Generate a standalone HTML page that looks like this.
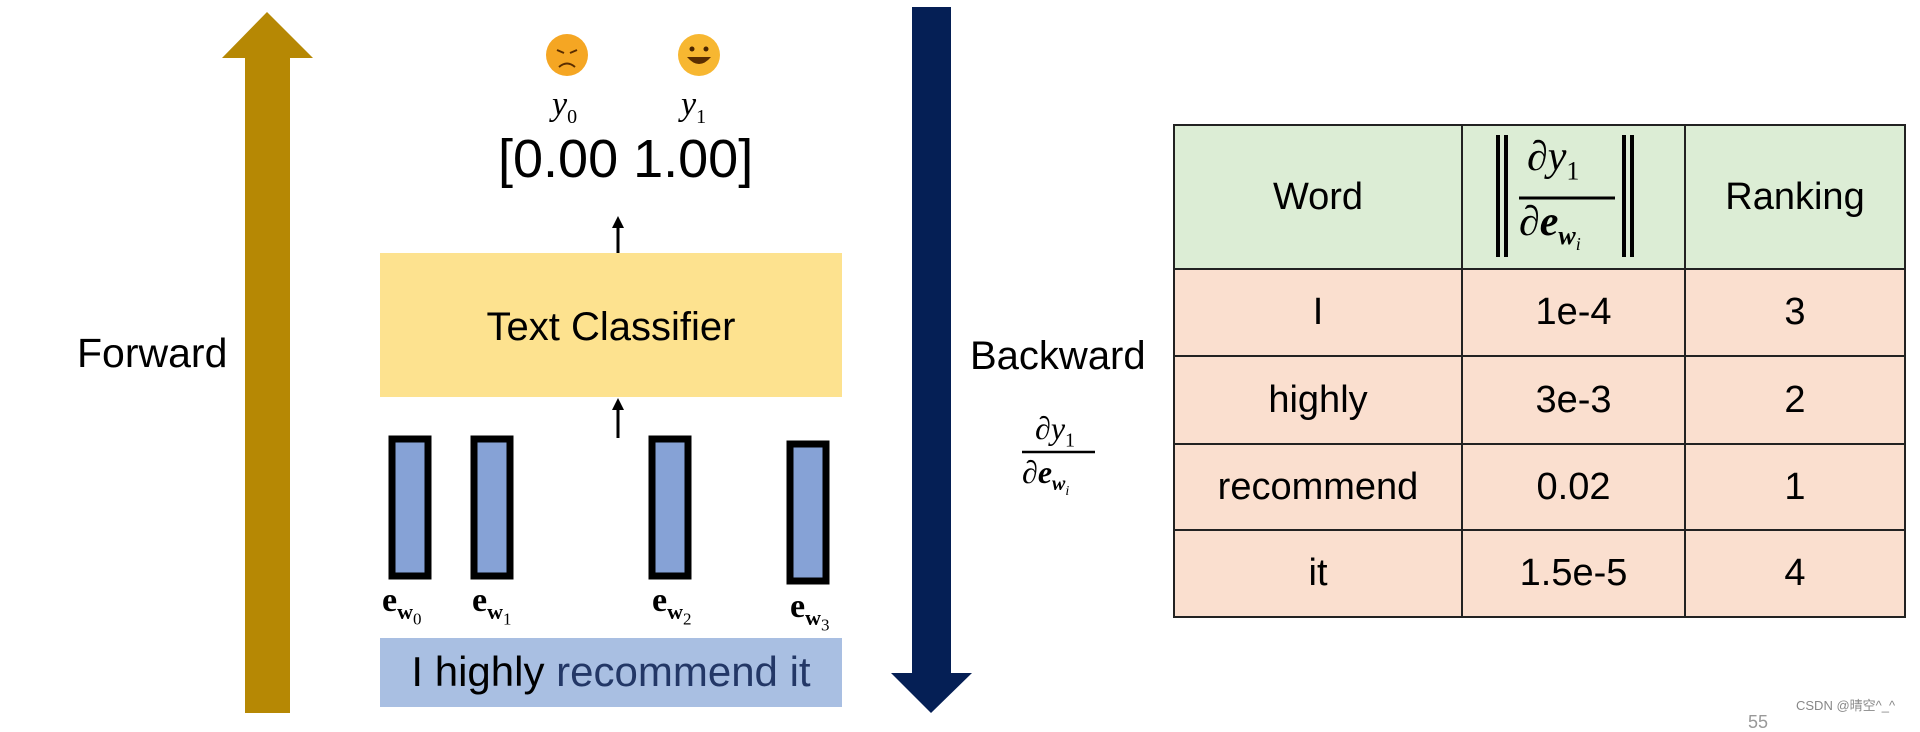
<!DOCTYPE html>
<html><head><meta charset="utf-8"><style>
body{margin:0;width:1920px;height:723px;background:#fff;position:relative;overflow:hidden;font-family:"Liberation Sans","DejaVu Sans",sans-serif;}
.a{position:absolute;white-space:nowrap;line-height:1;z-index:5;}
.m{font-family:"Liberation Serif","DejaVu Serif",serif;font-style:italic;}
table{position:absolute;left:1173px;top:124px;border-collapse:collapse;font-size:38px;z-index:1;}
td{border:2px solid #222;text-align:center;padding:0;}
svg.o{z-index:4}
</style></head><body>
<table>
<tr style="background:#dcedd5;height:144px"><td style="width:286px">Word</td><td style="width:221px"></td><td style="width:218px">Ranking</td></tr>
<tr style="background:#fadfcf;height:87px"><td>I</td><td>1e-4</td><td>3</td></tr>
<tr style="background:#fadfcf;height:88px"><td>highly</td><td>3e-3</td><td>2</td></tr>
<tr style="background:#fadfcf;height:86px"><td>recommend</td><td>0.02</td><td>1</td></tr>
<tr style="background:#fadfcf;height:87px"><td>it</td><td>1.5e-5</td><td>4</td></tr>
</table>
<svg class="a o" style="left:0;top:0" width="1920" height="723">
<polygon points="245,713 290,713 290,58 313,58 267,12 222,58 245,58" fill="#b68804"/>
<polygon points="912,7 951,7 951,673 972,673 931,713 891,673 912,673" fill="#051f55"/>
<line x1="618" y1="257" x2="618" y2="225" stroke="#000" stroke-width="3"/><polygon points="612,228 624,228 618,216" fill="#000"/>
<line x1="618" y1="438" x2="618" y2="407" stroke="#000" stroke-width="3"/><polygon points="612,410 624,410 618,398" fill="#000"/>
<rect x="380" y="253" width="462" height="144" fill="#fde28f"/>
<rect x="380" y="638" width="462" height="69" fill="#a9bfe2"/>
<g fill="#86a2d6" stroke="#000" stroke-width="7">
<rect x="392" y="439" width="36" height="137"/><rect x="474" y="439" width="36" height="137"/>
<rect x="652" y="439" width="36" height="137"/><rect x="790" y="444" width="36" height="137"/>
</g>
<rect x="1496" y="135" width="4" height="122" fill="#000"/><rect x="1504" y="135" width="4" height="122" fill="#000"/>
<rect x="1622" y="135" width="4" height="122" fill="#000"/><rect x="1630" y="135" width="4" height="122" fill="#000"/>
<line x1="1519" y1="198" x2="1615" y2="198" stroke="#000" stroke-width="3"/>
<line x1="1022" y1="452" x2="1095" y2="452" stroke="#000" stroke-width="2.5"/>
<circle cx="567" cy="55" r="21" fill="#f5a623"/><circle cx="699" cy="55" r="21" fill="#f7b731"/>
<path d="M557 50 l7 3 M577 50 l-7 3" stroke="#5a2d00" stroke-width="2"/>
<path d="M559 67 q8 -7 16 0" stroke="#5a2d00" stroke-width="2" fill="none"/>
<circle cx="692" cy="49" r="2.5" fill="#4a2500"/><circle cx="706" cy="49" r="2.5" fill="#4a2500"/>
<path d="M687 57 q12 14 24 0 z" fill="#5a2d00"/>
</svg>
<div class="a" style="left:77px;top:333px;font-size:41px">Forward</div>
<div class="a" style="left:970px;top:336px;font-size:40px">Backward</div>
<div class="a m" style="left:552px;top:88px;font-size:34px">y<sub style="font-size:20px;font-style:normal">0</sub></div>
<div class="a m" style="left:681px;top:88px;font-size:34px">y<sub style="font-size:20px;font-style:normal">1</sub></div>
<div class="a" style="left:498px;top:132px;font-size:54px">[0.00 1.00]</div>
<div class="a" style="left:380px;top:307px;width:462px;text-align:center;font-size:40px">Text Classifier</div>
<div class="a" style="left:380px;top:651px;width:462px;text-align:center;font-size:42px">I highly <span style="color:#233766">recommend it</span></div>
<div class="a" style="left:382px;top:584px;font-family:'Liberation Serif',serif;font-weight:bold;font-size:34px">e<sub style="font-size:22px">w<sub style="font-size:17px;font-weight:normal">0</sub></sub></div>
<div class="a" style="left:472px;top:584px;font-family:'Liberation Serif',serif;font-weight:bold;font-size:34px">e<sub style="font-size:22px">w<sub style="font-size:17px;font-weight:normal">1</sub></sub></div>
<div class="a" style="left:652px;top:584px;font-family:'Liberation Serif',serif;font-weight:bold;font-size:34px">e<sub style="font-size:22px">w<sub style="font-size:17px;font-weight:normal">2</sub></sub></div>
<div class="a" style="left:790px;top:590px;font-family:'Liberation Serif',serif;font-weight:bold;font-size:34px">e<sub style="font-size:22px">w<sub style="font-size:17px;font-weight:normal">3</sub></sub></div>
<div class="a m" style="left:1035px;top:412px;font-size:32px">∂y<sub style="font-size:20px;font-style:normal">1</sub></div>
<div class="a m" style="left:1022px;top:456px;font-size:32px">∂<b>e</b><sub style="font-size:20px"><b>w</b><sub style="font-size:14px">i</sub></sub></div>
<div class="a m" style="left:1527px;top:136px;font-size:42px">∂y<sub style="font-size:26px;font-style:normal">1</sub></div>
<div class="a m" style="left:1519px;top:201px;font-size:42px">∂<b>e</b><sub style="font-size:26px"><b>w</b><sub style="font-size:18px">i</sub></sub></div>
<div class="a" style="left:1796px;top:699px;font-size:13px;color:#888;font-family:'Liberation Sans','Noto Sans CJK SC',sans-serif">CSDN @晴空^_^</div>
<div class="a" style="left:1748px;top:713px;font-size:18px;color:#999">55</div>
</body></html>
